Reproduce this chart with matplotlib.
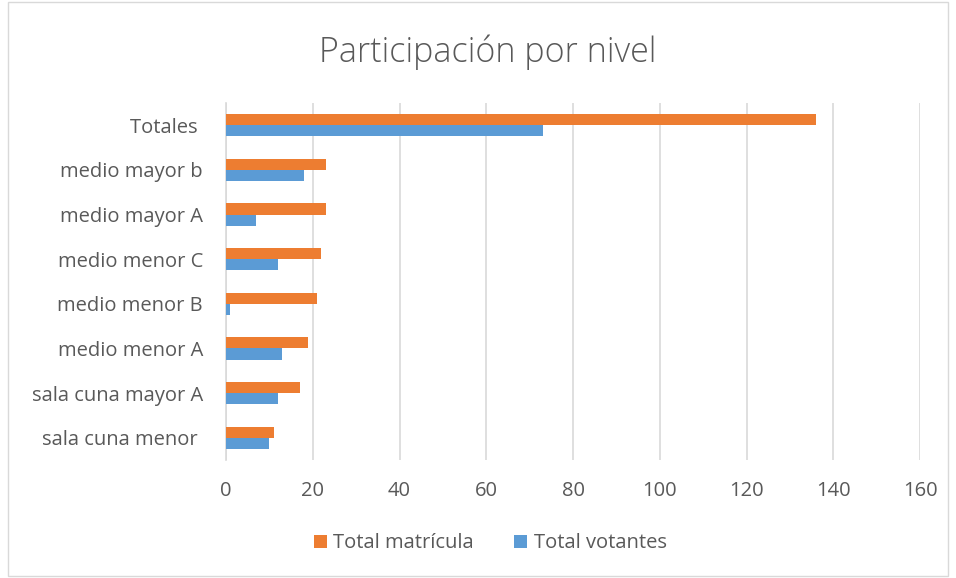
import matplotlib.pyplot as plt
import numpy as np
from matplotlib.patches import Rectangle

niveles = ['sala cuna menor ', 'sala cuna mayor A', 'medio menor A', 'medio menor B',
           'medio menor C', 'medio mayor A', 'medio mayor b', 'Totales ']
matricula = [11, 17, 19, 21, 22, 23, 23, 136]
votantes = [10, 12, 13, 1, 12, 7, 18, 73]
ticks = [0, 20, 40, 60, 80, 100, 120, 140, 160]

plt.rcParams['font.family'] = ['Open Sans', 'DejaVu Sans']
gris = '#595959'

fig = plt.figure(figsize=(9.56, 5.78), dpi=100)
ax = fig.add_axes([0.2364, 0.204, 0.726, 0.618])

y = np.arange(len(niveles))
h = 0.25
ax.barh(y + h / 2, matricula, height=h, color='#ED7D31', label='Total matrícula', zorder=3)
ax.barh(y - h / 2, votantes, height=h, color='#5B9BD5', label='Total votantes', zorder=3)

ax.set_xlim(0, 160)
ax.set_ylim(-0.5, len(niveles) - 0.5)
ax.set_xticks(ticks)
ax.set_yticks(y)
ax.set_yticklabels(niveles)
ax.tick_params(axis='x', length=0, pad=15, labelsize=14.5, labelcolor=gris)
ax.tick_params(axis='y', length=0, pad=16.5, labelsize=14.5, labelcolor=gris)
ax.grid(axis='x', color='#D9D9D9', linewidth=1.2, zorder=0)
for s in ['top', 'right', 'bottom']:
    ax.spines[s].set_visible(False)
ax.spines['left'].set_color('#D9D9D9')
ax.spines['left'].set_linewidth(1.2)

fig.text(0.51, 0.91, 'Participación por nivel', ha='center', va='center',
         fontsize=24.5, color=gris, fontweight='light')

handles, labels = ax.get_legend_handles_labels()
fig.legend(handles, labels, loc='center', bbox_to_anchor=(0.513, 0.06), ncol=2,
           frameon=False, fontsize=14.5, labelcolor=gris, handlelength=0.65,
           handleheight=0.65, handletextpad=0.3, columnspacing=2.0)

fig.patches.append(Rectangle((0.008, 0.003), 0.984, 0.994, transform=fig.transFigure,
                             fill=False, edgecolor='#D9D9D9', linewidth=1))

fig.savefig('out.png', dpi=100)
